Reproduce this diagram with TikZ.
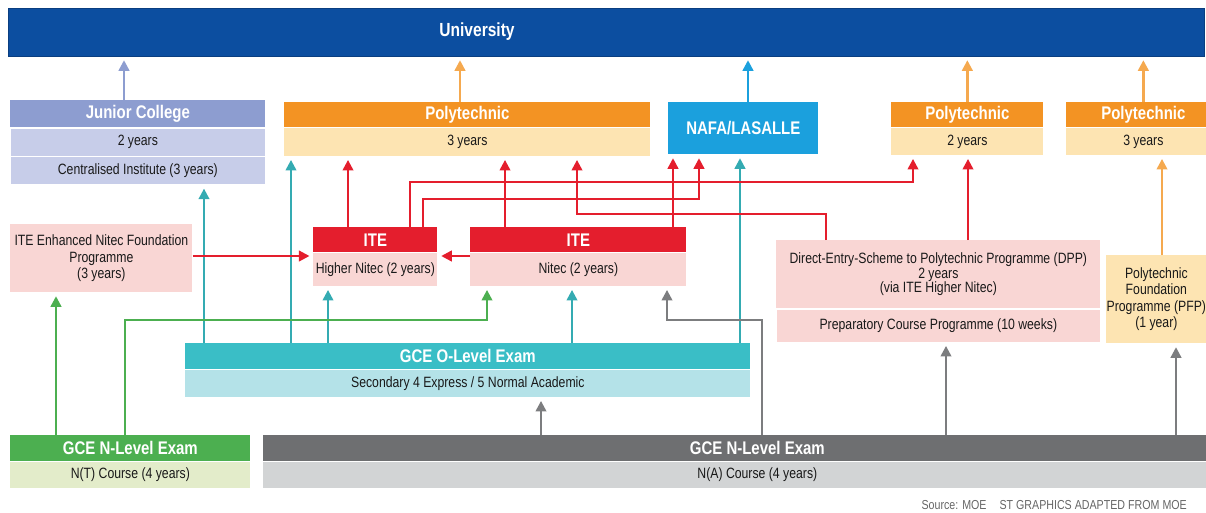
\documentclass[tikz,border=0pt]{standalone}
\usepackage{fontspec}
\setmainfont[FakeStretch=0.82]{Liberation Sans}
\usepackage{tikz}
\usetikzlibrary{arrows.meta,positioning}
\definecolor{unibl}{RGB}{12,78,160}
\definecolor{jcdk}{RGB}{141,157,208}
\definecolor{jclt}{RGB}{199,205,233}
\definecolor{polyor}{RGB}{243,147,35}
\definecolor{polylt}{RGB}{253,228,178}
\definecolor{nafabl}{RGB}{27,160,221}
\definecolor{itered}{RGB}{228,30,45}
\definecolor{itelt}{RGB}{249,214,212}
\definecolor{olteal}{RGB}{58,190,198}
\definecolor{ollt}{RGB}{180,226,232}
\definecolor{ntgreen}{RGB}{76,175,80}
\definecolor{ntlt}{RGB}{227,236,202}
\definecolor{nagray}{RGB}{110,111,113}
\definecolor{nalt}{RGB}{210,212,213}

\begin{document}
\begin{tikzpicture}[
  box/.style={rectangle, inner sep=0pt, anchor=north west, align=center,
              font=\fontsize{8.5}{9.4}\selectfont, text=black!90},
  hdr/.style={box, font=\fontsize{10.4}{12}\selectfont\bfseries, text=white},
  arr/.style={-{Triangle[length=6pt,width=6pt]}, line width=1.3pt, shorten >=2pt},
  rarr/.style={arr, itered},
  tarr/.style={arr, olteal!90!black},
  garr/.style={arr, ntgreen},
  narr/.style={arr, nagray!90},
  oarr/.style={arr, polyor!80},
]
\useasboundingbox (0,0) rectangle (24.12,-10.24);

%% University
\node[box, fill=unibl, draw=unibl!80!black, minimum width=23.92cm, minimum height=0.96cm] (uni) at (0.16,-0.16) {};
\node[font=\fontsize{10.8}{12}\selectfont\bfseries, text=white] (unilbl) at (9.54,-0.64) {University};

%% Junior College
\node[hdr, fill=jcdk, minimum width=5.1cm, minimum height=0.54cm] (jc) at (0.2,-2.0) {Junior College};
\node[box, fill=jclt, draw=white, minimum width=5.1cm, minimum height=0.56cm, below=0pt of jc] (jcyrs) {2 years};
\node[box, fill=jclt, draw=white, minimum width=5.1cm, minimum height=0.56cm, below=0pt of jcyrs] (jcci) {Centralised Institute (3 years)};

%% Polytechnic (3 years)
\node[hdr, fill=polyor, minimum width=7.32cm, minimum height=0.5cm] (poly) at (5.68,-2.04) {Polytechnic};
\node[box, fill=polylt, minimum width=7.32cm, minimum height=0.56cm, below=0pt of poly] (polyyrs) {3 years};

%% NAFA/LASALLE
\node[hdr, fill=nafabl, minimum width=3.0cm, minimum height=1.04cm, font=\fontsize{10.4}{12}\selectfont\bfseries] (nafa) at (13.36,-2.04) {NAFA/LASALLE};

%% Polytechnic (2 years)
\node[hdr, fill=polyor, minimum width=3.04cm, minimum height=0.5cm] (polyb) at (17.82,-2.04) {Polytechnic};
\node[box, fill=polylt, minimum width=3.04cm, minimum height=0.54cm, below=0pt of polyb] (polybyrs) {2 years};

%% Polytechnic (3 years, via PFP)
\node[hdr, fill=polyor, minimum width=3.08cm, minimum height=0.5cm] (polyc) at (21.32,-2.04) {Polytechnic};
\node[box, fill=polylt, minimum width=3.08cm, minimum height=0.54cm, below=0pt of polyc] (polycyrs) {3 years};

%% ITE Enhanced Nitec Foundation
\node[box, fill=itelt, minimum width=3.64cm, minimum height=1.36cm] (enf) at (0.2,-4.48) {ITE Enhanced Nitec Foundation\\Programme\\(3 years)};

%% ITE Higher Nitec
\node[hdr, fill=itered, minimum width=2.48cm, minimum height=0.5cm] (hn) at (6.26,-4.54) {ITE};
\node[box, fill=itelt, minimum width=2.48cm, minimum height=0.66cm, below=0pt of hn] (hnyrs) {Higher Nitec (2 years)};

%% ITE Nitec
\node[hdr, fill=itered, minimum width=4.32cm, minimum height=0.5cm] (nitec) at (9.4,-4.54) {ITE};
\node[box, fill=itelt, minimum width=4.32cm, minimum height=0.66cm, below=0pt of nitec] (nitecyrs) {Nitec (2 years)};

%% DPP
\node[box, fill=itelt, minimum width=6.48cm, minimum height=1.36cm, font=\fontsize{8.5}{8.2}\selectfont] (dpp) at (15.52,-4.8) {Direct-Entry-Scheme to Polytechnic Programme (DPP)\\2 years\\(via ITE Higher Nitec)};
\node[box, fill=itelt, draw=white, minimum width=6.48cm, minimum height=0.66cm, below=0pt of dpp] (prep) {Preparatory Course Programme (10 weeks)};

%% PFP
\node[box, fill=polylt, minimum width=2.0cm, minimum height=1.76cm] (pfp) at (22.12,-5.1) {Polytechnic\\Foundation\\Programme (PFP)\\(1 year)};

%% GCE O-Level
\node[hdr, fill=olteal, minimum width=11.3cm, minimum height=0.52cm] (ol) at (3.7,-6.86) {GCE O-Level Exam};
\node[box, fill=ollt, minimum width=11.3cm, minimum height=0.54cm, below=0pt of ol] (olsec) {Secondary 4 Express / 5 Normal Academic};

%% GCE N-Level, N(T)
\node[hdr, fill=ntgreen, minimum width=4.8cm, minimum height=0.52cm] (nt) at (0.2,-8.7) {GCE N-Level Exam};
\node[box, fill=ntlt, minimum width=4.8cm, minimum height=0.52cm, below=0pt of nt] (ntc) {N(T) Course (4 years)};

%% GCE N-Level, N(A)
\node[hdr, fill=nagray, minimum width=19.76cm, minimum height=0.52cm] (na) at (5.26,-8.7) {GCE N-Level Exam};
\node[box, fill=nalt, minimum width=19.76cm, minimum height=0.52cm, below=0pt of na] (nac) {N(A) Course (4 years)};

%% Source
\node[anchor=east, font=\fontsize{7.4}{8}\selectfont, text=black!60] (src) at (23.86,-10.1) {Source: MOE\quad ST GRAPHICS ADAPTED FROM MOE};

%% Arrows to University
\draw[arr, jcdk] (2.48,0 |- jc.north) -- (2.48,0 |- uni.south);
\draw[oarr] (9.2,0 |- poly.north) -- (9.2,0 |- uni.south);
\draw[arr, nafabl] (14.96,0 |- nafa.north) -- (14.96,0 |- uni.south);
\draw[oarr] (polyb.north) -- (polyb.north |- uni.south);
\draw[oarr] (polyc.north) -- (polyc.north |- uni.south);

%% O-Level arrows
\draw[tarr] (4.08,0 |- ol.north) -- (4.08,0 |- jcci.south);
\draw[tarr] (5.82,0 |- ol.north) -- (5.82,0 |- polyyrs.south);
\draw[tarr] (6.56,0 |- ol.north) -- (6.56,0 |- hnyrs.south);
\draw[tarr] (11.44,0 |- ol.north) -- (11.44,0 |- nitecyrs.south);
\draw[tarr] (14.8,0 |- ol.north) -- (14.8,0 |- nafa.south);

%% N(T) arrows
\draw[garr] (1.12,0 |- nt.north) -- (1.12,0 |- enf.south);
\draw[garr] (2.5,0 |- nt.north) |- (9.74,-6.4) -- (9.74,0 |- nitecyrs.south);

%% N(A) arrows
\draw[narr] (10.82,0 |- na.north) -- (10.82,0 |- olsec.south);
\draw[narr] (15.24,0 |- na.north) |- (13.34,-6.4) -- (13.34,0 |- nitecyrs.south);
\draw[narr] (18.92,0 |- na.north) -- (18.92,0 |- prep.south);
\draw[narr] (23.52,0 |- na.north) -- (23.52,0 |- pfp.south);

%% PFP to Polytechnic
\draw[oarr] (23.24,0 |- pfp.north) -- (23.24,0 |- polycyrs.south);

%% ITE arrows
\draw[rarr] (enf.east |- 0,-5.12) -- (hn.west |- 0,-5.12);
\draw[rarr] (nitec.west |- 0,-5.12) -- (hn.east |- 0,-5.12);
\draw[rarr] (6.96,0 |- hn.north) -- (6.96,0 |- polyyrs.south);
\draw[rarr] (8.2,0 |- hn.north) |- (18.26,-3.64) -- (18.26,0 |- polybyrs.south);
\draw[rarr] (8.46,0 |- hn.north) |- (13.98,-3.98) -- (13.98,0 |- nafa.south);
\draw[rarr] (10.1,0 |- nitec.north) -- (10.1,0 |- polyyrs.south);
\draw[rarr] (13.46,0 |- nitec.north) -- (13.46,0 |- nafa.south);
\draw[rarr] (16.52,0 |- dpp.north) |- (11.54,-4.28) -- (11.54,0 |- polyyrs.south);
\draw[rarr] (19.36,0 |- dpp.north) -- (19.36,0 |- polybyrs.south);

\end{tikzpicture}
\end{document}
